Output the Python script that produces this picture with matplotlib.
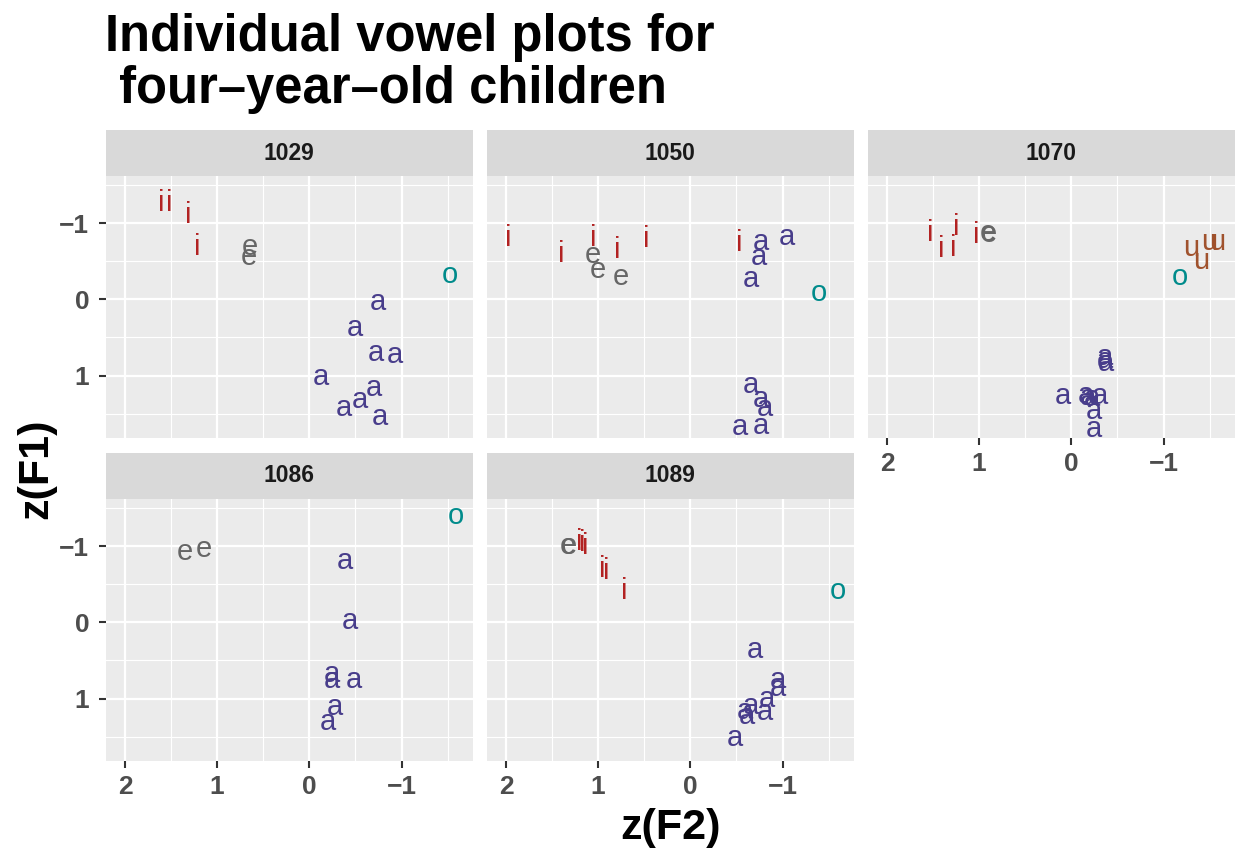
import numpy as np
import matplotlib
matplotlib.use('Agg')
import matplotlib.pyplot as plt

# speaker ids (facets)
speakers = ["1029", "1050", "1070", "1086", "1089"]

# vowel tokens per speaker: label, z(F2), z(F1)
v1029 = ["i", "i", "i", "i", "e", "e", "o", "a", "a", "a", "a", "a", "a", "a", "a", "a"]
f2_1029 = [1.61, 1.52, 1.31, 1.22, 0.64, 0.66, -1.52, -0.74, -0.49, -0.72, -0.93, -0.13, -0.70, -0.55, -0.38, -0.77]
f1_1029 = [-1.26, -1.26, -1.11, -0.69, -0.69, -0.56, -0.32, 0.03, 0.37, 0.70, 0.73, 1.02, 1.16, 1.32, 1.42, 1.54]

v1050 = ["i", "i", "i", "e", "e", "i", "e", "i", "i", "a", "a", "a", "a", "o", "a", "a", "a", "a", "a"]
f2_1050 = [1.98, 1.40, 1.05, 1.06, 1.00, 0.79, 0.75, 0.48, -0.53, -0.77, -0.74, -1.05, -0.66, -1.39, -0.66, -0.77, -0.81, -0.54, -0.77]
f1_1050 = [-0.80, -0.59, -0.81, -0.58, -0.39, -0.65, -0.29, -0.79, -0.74, -0.75, -0.56, -0.82, -0.27, -0.08, 1.12, 1.31, 1.42, 1.68, 1.66]

v1070 = ["i", "i", "i", "i", "i", "e", "e", "u", "u", "u", "u", "o",
         "a", "a", "a", "a", "a", "a", "a", "a", "a", "a"]
f2_1070 = [1.53, 1.41, 1.25, 1.28, 1.03, 0.91, 0.90, -1.30, -1.41, -1.49, -1.58, -1.18,
           -0.36, -0.36, -0.37, 0.09, -0.16, -0.18, -0.22, -0.31, -0.24, -0.24]
f1_1070 = [-0.87, -0.66, -0.95, -0.68, -0.85, -0.87, -0.86, -0.67, -0.50, -0.76, -0.76, -0.29,
           0.75, 0.79, 0.83, 1.27, 1.25, 1.28, 1.29, 1.27, 1.46, 1.70]

v1086 = ["o", "e", "e", "a", "a", "a", "a", "a", "a", "a"]
f2_1086 = [-1.59, 1.35, 1.14, -0.39, -0.44, -0.24, -0.24, -0.48, -0.28, -0.20]
f1_1086 = [-1.40, -0.92, -0.96, -0.80, -0.02, 0.68, 0.76, 0.75, 1.11, 1.31]

v1089 = ["e", "e", "i", "i", "i", "i", "i", "i", "o",
         "a", "a", "a", "a", "a", "a", "a", "a", "a"]
f2_1089 = [1.32, 1.33, 1.20, 1.17, 1.14, 0.96, 0.91, 0.72, -1.60,
           -0.70, -0.95, -0.95, -0.83, -0.66, -0.59, -0.61, -0.81, -0.48]
f1_1089 = [-1.00, -1.00, -1.06, -1.04, -1.00, -0.70, -0.67, -0.41, -0.41,
           0.36, 0.75, 0.86, 1.00, 1.10, 1.16, 1.23, 1.18, 1.52]

vowels = [v1029, v1050, v1070, v1086, v1089]
f2s = [f2_1029, f2_1050, f2_1070, f2_1086, f2_1089]
f1s = [f1_1029, f1_1050, f1_1070, f1_1086, f1_1089]

colours = {"i": "#B22222", "e": "#666666", "a": "#483D8B", "o": "#008B8B", "u": "#A0522D"}

W, H = 1238, 850
fig = plt.figure(figsize=(W / 100, H / 100), dpi=100)
plt.rcParams['font.family'] = ['Liberation Sans', 'DejaVu Sans']

col_x = [106, 487, 868]
pw, ph = 366.5, 262
row_top = [176, 499]
strip_h = 46

def box(x0, y0, w, h):
    return [x0 / W, 1 - (y0 + h) / H, w / W, h / H]

for k, spk in enumerate(speakers):
    r, c = divmod(k, 3)
    ax = fig.add_axes(box(col_x[c], row_top[r], pw, ph))
    ax.set_facecolor('#EBEBEB')
    for s in ax.spines.values():
        s.set_visible(False)
    ax.set_xlim(2.206, -1.77)
    ax.set_ylim(1.82, -1.62)
    ax.set_xticks([2, 1, 0, -1])
    ax.set_yticks([-1, 0, 1])
    ax.set_xticks([1.5, 0.5, -0.5, -1.5], minor=True)
    ax.set_yticks([-1.5, -0.5, 0.5, 1.5], minor=True)
    ax.grid(which='major', color='white', linewidth=1.6)
    ax.grid(which='minor', color='white', linewidth=0.8)
    ax.set_axisbelow(True)
    ax.tick_params(which='minor', length=0)
    ax.tick_params(which='major', length=5, width=1.5, color='#333333',
                   labelsize=19, labelcolor='#4D4D4D', pad=5)
    for t in ax.get_xticklabels() + ax.get_yticklabels():
        t.set_fontweight('bold')
    ax.tick_params(axis='y', pad=7)
    if c != 0:
        ax.tick_params(axis='y', left=False, labelleft=False)
    if not (r == 1 or c == 2):
        ax.tick_params(axis='x', bottom=False, labelbottom=False)
    for v, x, y in zip(vowels[k], f2s[k], f1s[k]):
        ax.text(x, y, v, color=colours[v], fontsize=21, ha='center', va='center')

    sax = fig.add_axes(box(col_x[c], row_top[r] - strip_h, pw, strip_h))
    sax.set_facecolor('#D9D9D9')
    sax.set_xticks([])
    sax.set_yticks([])
    for s in sax.spines.values():
        s.set_visible(False)
    sax.text(0.5, 0.5, spk, transform=sax.transAxes, ha='center', va='center',
             fontsize=16.5, fontweight='bold', color='#1A1A1A')

fig.text(105 / W, 1 - 13 / H, "Individual vowel plots for\n four\u2013year\u2013old children",
         ha='left', va='top', fontsize=36.5, fontweight='bold', linespacing=1.08)
fig.text(671 / W, 1 - 828 / H, "z(F2)", ha='center', va='center',
         fontsize=31, fontweight='bold')
fig.text(36 / W, 1 - 469 / H, "z(F1)", ha='center', va='center', rotation=90,
         fontsize=31, fontweight='bold')

fig.savefig('out.png', dpi=100)
